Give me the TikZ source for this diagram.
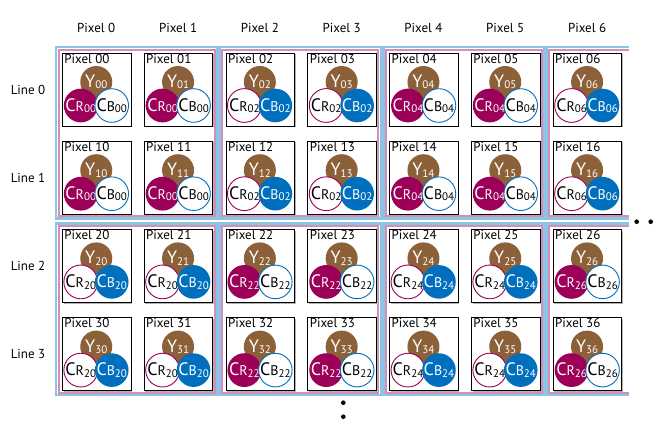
\documentclass[tikz,border=0pt]{standalone}
\usepackage{fontspec}
\setmainfont{PT Sans}
\definecolor{ybrown}{RGB}{140,96,56}
\definecolor{crred}{RGB}{156,0,88}
\definecolor{cbblue}{RGB}{0,112,190}
\definecolor{grpblue}{RGB}{140,196,230}
\definecolor{grppink}{RGB}{214,140,184}
\newcommand{\yname}[1]{{\fontsize{18}{18}\selectfont Y}{\fontsize{11}{11}\selectfont\raisebox{-1.5pt}{#1}}}
\newcommand{\cname}[2]{{\fontsize{18}{18}\selectfont C}{\fontsize{14}{14}\selectfont #1}{\fontsize{11}{11}\selectfont\raisebox{-1.5pt}{#2}}}

\begin{document}
\begin{tikzpicture}[x=1pt, y=-1pt,
    every node/.style={font=\fontsize{13}{14}\selectfont},
    pixbox/.style={draw=black, fill=white, line width=0.8pt, anchor=north west,
        minimum width=68.5pt, minimum height=73pt, inner sep=0pt},
    chan/.style={circle, minimum size=32pt, inner sep=0pt, line width=0.9pt},
    ydisc/.style={chan, fill=ybrown, text=white},
    crfull/.style={chan, fill=crred, text=white},
    crempty/.style={chan, draw=crred, fill=white, text=black},
    cbfull/.style={chan, fill=cbblue, text=white},
    cbempty/.style={chan, draw=cbblue, fill=white, text=black}]
    % 1. Vùng hiển thị
    \useasboundingbox (0,0) rectangle (660,440);

    % 2. Nhãn cột và dòng
    \foreach \c in {0,...,6} {
        \node (h\c) at (62+81.8*\c+34.25, 28) {Pixel \c};
    }
    \foreach \r in {0,...,3} {
        \node (l\r) at (28, 52.5+88.2*\r+37) {Line \r};
    }

    % 3. Khung nhóm 2x2 (xanh ngoài, hồng trong)
    \foreach \h in {0,1} {
        \foreach \g in {0,1,2} {
            \pgfmathsetmacro\gl{62+163.6*\g-6}
            \pgfmathsetmacro\gr{62+163.6*\g+81.8+68.5+5}
            \pgfmathsetmacro\gt{52.5+176.4*\h-5.5}
            \pgfmathsetmacro\gb{52.5+176.4*\h+88.2+73+5}
            \draw[grpblue, line width=2.6pt] (\gl,\gt) rectangle (\gr,\gb);
            \draw[grppink, line width=2pt] (\gl+2.6,\gt+2.6) rectangle (\gr-2.6,\gb-2.6);
        }
        % nhóm cuối bị cắt bên phải
        \pgfmathsetmacro\gl{62+163.6*3-6}
        \pgfmathsetmacro\gt{52.5+176.4*\h-5.5}
        \pgfmathsetmacro\gb{52.5+176.4*\h+88.2+73+5}
        \draw[grpblue, line width=2.6pt] (629,\gt) -| (\gl,\gb) -- (629,\gb);
        \draw[grppink, line width=2pt] (629,\gt+2.6) -| (\gl+2.6,\gb-2.6) -- (629,\gb-2.6);
    }

    % 4. Các ô pixel Y, CR, CB
    \foreach \r in {0,...,3} {
        \foreach \c in {0,...,6} {
            \pgfmathsetmacro\bx{62+81.8*\c}
            \pgfmathsetmacro\by{52.5+88.2*\r}
            \pgfmathsetmacro\cx{\bx+34.25}
            \pgfmathtruncatemacro\sr{2*floor(\r/2)}
            \pgfmathtruncatemacro\sc{2*floor(\c/2)}
            \pgfmathtruncatemacro\odd{mod(\sr/2+\sc/2,2)}
            \ifnum\odd=0 \def\crst{crfull}\def\cbst{cbempty}\else\def\crst{crempty}\def\cbst{cbfull}\fi
            \fill[gray!60] (\bx+1.6,\by+1.6) rectangle ++(68.5,73);
            \node[pixbox] (p\r\c) at (\bx,\by) {};
            \node[anchor=north west, inner sep=1.2pt] (t\r\c) at (\bx+1,\by) {Pixel \r\c};
            \node[ydisc] (y\r\c) at (\cx, \by+29.5) {\yname{\r\c}};
            \node[\crst] (cr\r\c) at (\cx-15.5, \by+53) {\cname{R}{\sr\sc}};
            \node[\cbst] (cb\r\c) at (\cx+15.5, \by+53) {\cname{B}{\sr\sc}};
        }
    }

    % 5. Dấu chấm tiếp diễn
    \fill (636.7,221.7) circle (2.3pt);
    \fill (650.7,221.7) circle (2.3pt);
    \fill (343.3,402.7) circle (2.3pt);
    \fill (343.3,416.7) circle (2.3pt);
\end{tikzpicture}
\end{document}
